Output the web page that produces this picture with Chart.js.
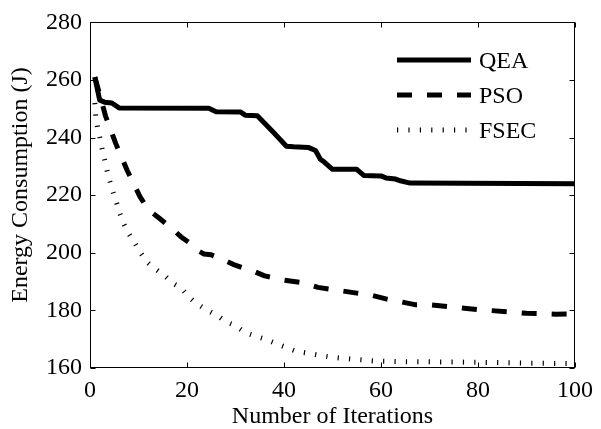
<!DOCTYPE html>
<html><head><meta charset="utf-8">
<script src="https://cdn.jsdelivr.net/npm/chart.js@4.4.1/dist/chart.umd.min.js"></script>
<style>html,body{margin:0;padding:0;background:#fff;}canvas{display:block;}</style>
</head><body>
<canvas id="c" width="601" height="429"></canvas>
<script>
// ---- data ----
const qeaIter   = [1, 2, 3, 4.5, 6, 24.5, 26, 31, 32, 34.5, 36, 38, 40.5, 42, 45, 46.5, 47.5, 48.3, 50, 55, 56.5, 60, 61, 63, 64, 66, 100];
const qeaEnergy = [261, 253, 252.3, 252, 250.3, 250.2, 249, 248.9, 247.8, 247.6, 245, 241.5, 237, 236.8, 236.6, 235.5, 232.5, 231.5, 229, 229, 226.8, 226.7, 226, 225.6, 225, 224.2, 224];

const psoIter   = [1, 2.5, 3.2, 5.3, 7.7, 10.3, 12, 14.3, 16.5, 18.8, 20.5, 22.5, 23.5, 25, 27, 29.5, 32, 34, 36, 40, 44, 47, 51, 55, 58, 61, 64, 67, 70, 74, 80, 86, 90, 96, 100];
const psoEnergy = [261, 252, 247.5, 238, 228.5, 219.5, 215, 212, 209, 205.5, 203.5, 200.5, 199.6, 199.3, 198, 196, 194.5, 193.4, 192, 190.5, 189.6, 188, 187, 186, 185.3, 184, 183, 182, 182, 181.3, 180.3, 179.5, 179, 178.7, 178.8];

const fsecIter   = [1, 1.2, 1.6, 2.1, 2.5, 3, 3.5, 4.1, 4.7, 5.5, 6.2, 7, 8, 9.2, 10.5, 11.8, 13.3, 15.3, 17, 18.8, 20.4, 22, 24, 26, 28, 30, 32, 34, 36.2, 38.2, 40.3, 42.5, 44.8, 47, 49.5, 52, 54, 56.2, 58.7, 65, 80, 90, 100];
const fsecEnergy = [252, 247, 243, 239.5, 236, 232.4, 228.6, 224.8, 221.4, 217.3, 213.5, 210, 206.6, 203.5, 199.8, 196.7, 194.6, 192.2, 189.5, 187.8, 184.7, 182.3, 180.2, 178.5, 176.1, 174.7, 172.3, 171.1, 170, 168.6, 167.2, 165.8, 165.2, 164.5, 163.8, 163.4, 163.1, 162.8, 162.4, 162.2, 162, 161.7, 161.5];

const seriesNames = ['QEA', 'PSO', 'FSEC'];
const xTicks = [0, 20, 40, 60, 80, 100];
const yTicks = [160, 180, 200, 220, 240, 260, 280];
const xTitle = 'Number of Iterations';
const yTitle = 'Energy Consumption (J)';

// ---- styling ----
const FONT = "'Liberation Serif', 'Times New Roman', serif";
const styles = [
  {width: 5, dash: []},
  {width: 5, dash: [15, 15]},
  {width: 5, dash: [1.2, 10.2]}
];
const pts = (xs, ys) => xs.map((v, i) => ({x: v, y: ys[i]}));
const seriesData = [pts(qeaIter, qeaEnergy), pts(psoIter, psoEnergy), pts(fsecIter, fsecEnergy)];

const framePlugin = {
  id: 'frame',
  afterDatasetsDraw(chart) {
    const {ctx, chartArea: a, scales: {x, y}} = chart;
    ctx.save();
    ctx.strokeStyle = '#000';
    ctx.lineWidth = 1;
    ctx.setLineDash([]);
    const L = Math.round(a.left) + 0.5, R = Math.round(a.right) - 0.5;
    const T = Math.round(a.top) + 0.5, B = Math.round(a.bottom) - 0.5;
    ctx.strokeRect(L, T, R - L, B - T);
    const tl = 5;
    ctx.beginPath();
    xTicks.forEach(v => {
      const p = Math.round(x.getPixelForValue(v)) + 0.5;
      ctx.moveTo(p, B); ctx.lineTo(p, B - tl);
      ctx.moveTo(p, T); ctx.lineTo(p, T + tl);
    });
    yTicks.forEach(v => {
      const p = Math.round(y.getPixelForValue(v)) + 0.5;
      ctx.moveTo(L, p); ctx.lineTo(L + tl, p);
      ctx.moveTo(R, p); ctx.lineTo(R - tl, p);
    });
    ctx.stroke();

    // y axis title
    ctx.save();
    ctx.translate(21, 185);
    ctx.rotate(-Math.PI / 2);
    ctx.fillStyle = '#000';
    ctx.font = '24px ' + FONT;
    ctx.textAlign = 'center';
    ctx.textBaseline = 'middle';
    ctx.fillText(yTitle, 0, 0);
    ctx.restore();

    // legend
    const x0 = 397, x1 = 471, tx = 479;
    const rows = [60, 95, 130];
    ctx.lineCap = 'butt';
    seriesNames.forEach((name, i) => {
      ctx.beginPath();
      ctx.lineWidth = styles[i].width;
      ctx.setLineDash(styles[i].dash);
      ctx.moveTo(x0, rows[i]); ctx.lineTo(x1, rows[i]);
      ctx.stroke();
      ctx.setLineDash([]);
      ctx.fillStyle = '#000';
      ctx.font = '24px ' + FONT;
      ctx.textAlign = 'left';
      ctx.textBaseline = 'middle';
      ctx.fillText(name, tx, rows[i] + 1.5);
    });
    ctx.restore();
  }
};

new Chart(document.getElementById('c'), {
  type: 'line',
  data: {
    datasets: seriesNames.map((n, i) => ({
      label: n,
      data: seriesData[i],
      borderColor: '#000',
      backgroundColor: '#000',
      borderWidth: styles[i].width,
      borderDash: styles[i].dash,
      borderCapStyle: 'butt',
      borderJoinStyle: 'round',
      pointRadius: 0,
      tension: 0,
      fill: false
    }))
  },
  options: {
    responsive: false,
    animation: false,
    devicePixelRatio: 1,
    layout: {padding: {left: 0, top: 18, right: 22, bottom: 0}},
    plugins: {legend: {display: false}, tooltip: {enabled: false}},
    scales: {
      x: {
        type: 'linear', min: 0, max: 100,
        afterBuildTicks: s => { s.ticks = xTicks.map(v => ({value: v})); },
        afterFit: s => { s.height = 61; },
        ticks: {color: '#000', padding: 8, maxRotation: 0, font: {family: FONT, size: 24}},
        grid: {display: false, drawTicks: false},
        border: {display: false},
        title: {display: true, text: xTitle, color: '#000', padding: 0, font: {family: FONT, size: 24, lineHeight: 1}}
      },
      y: {
        type: 'linear', min: 160, max: 280,
        afterBuildTicks: s => { s.ticks = yTicks.map(v => ({value: v})); },
        afterFit: s => { s.width = 90; },
        ticks: {color: '#000', padding: 8, font: {family: FONT, size: 24}},
        grid: {display: false, drawTicks: false},
        border: {display: false},
        title: {display: false}
      }
    }
  },
  plugins: [framePlugin]
});
</script>
</body></html>
